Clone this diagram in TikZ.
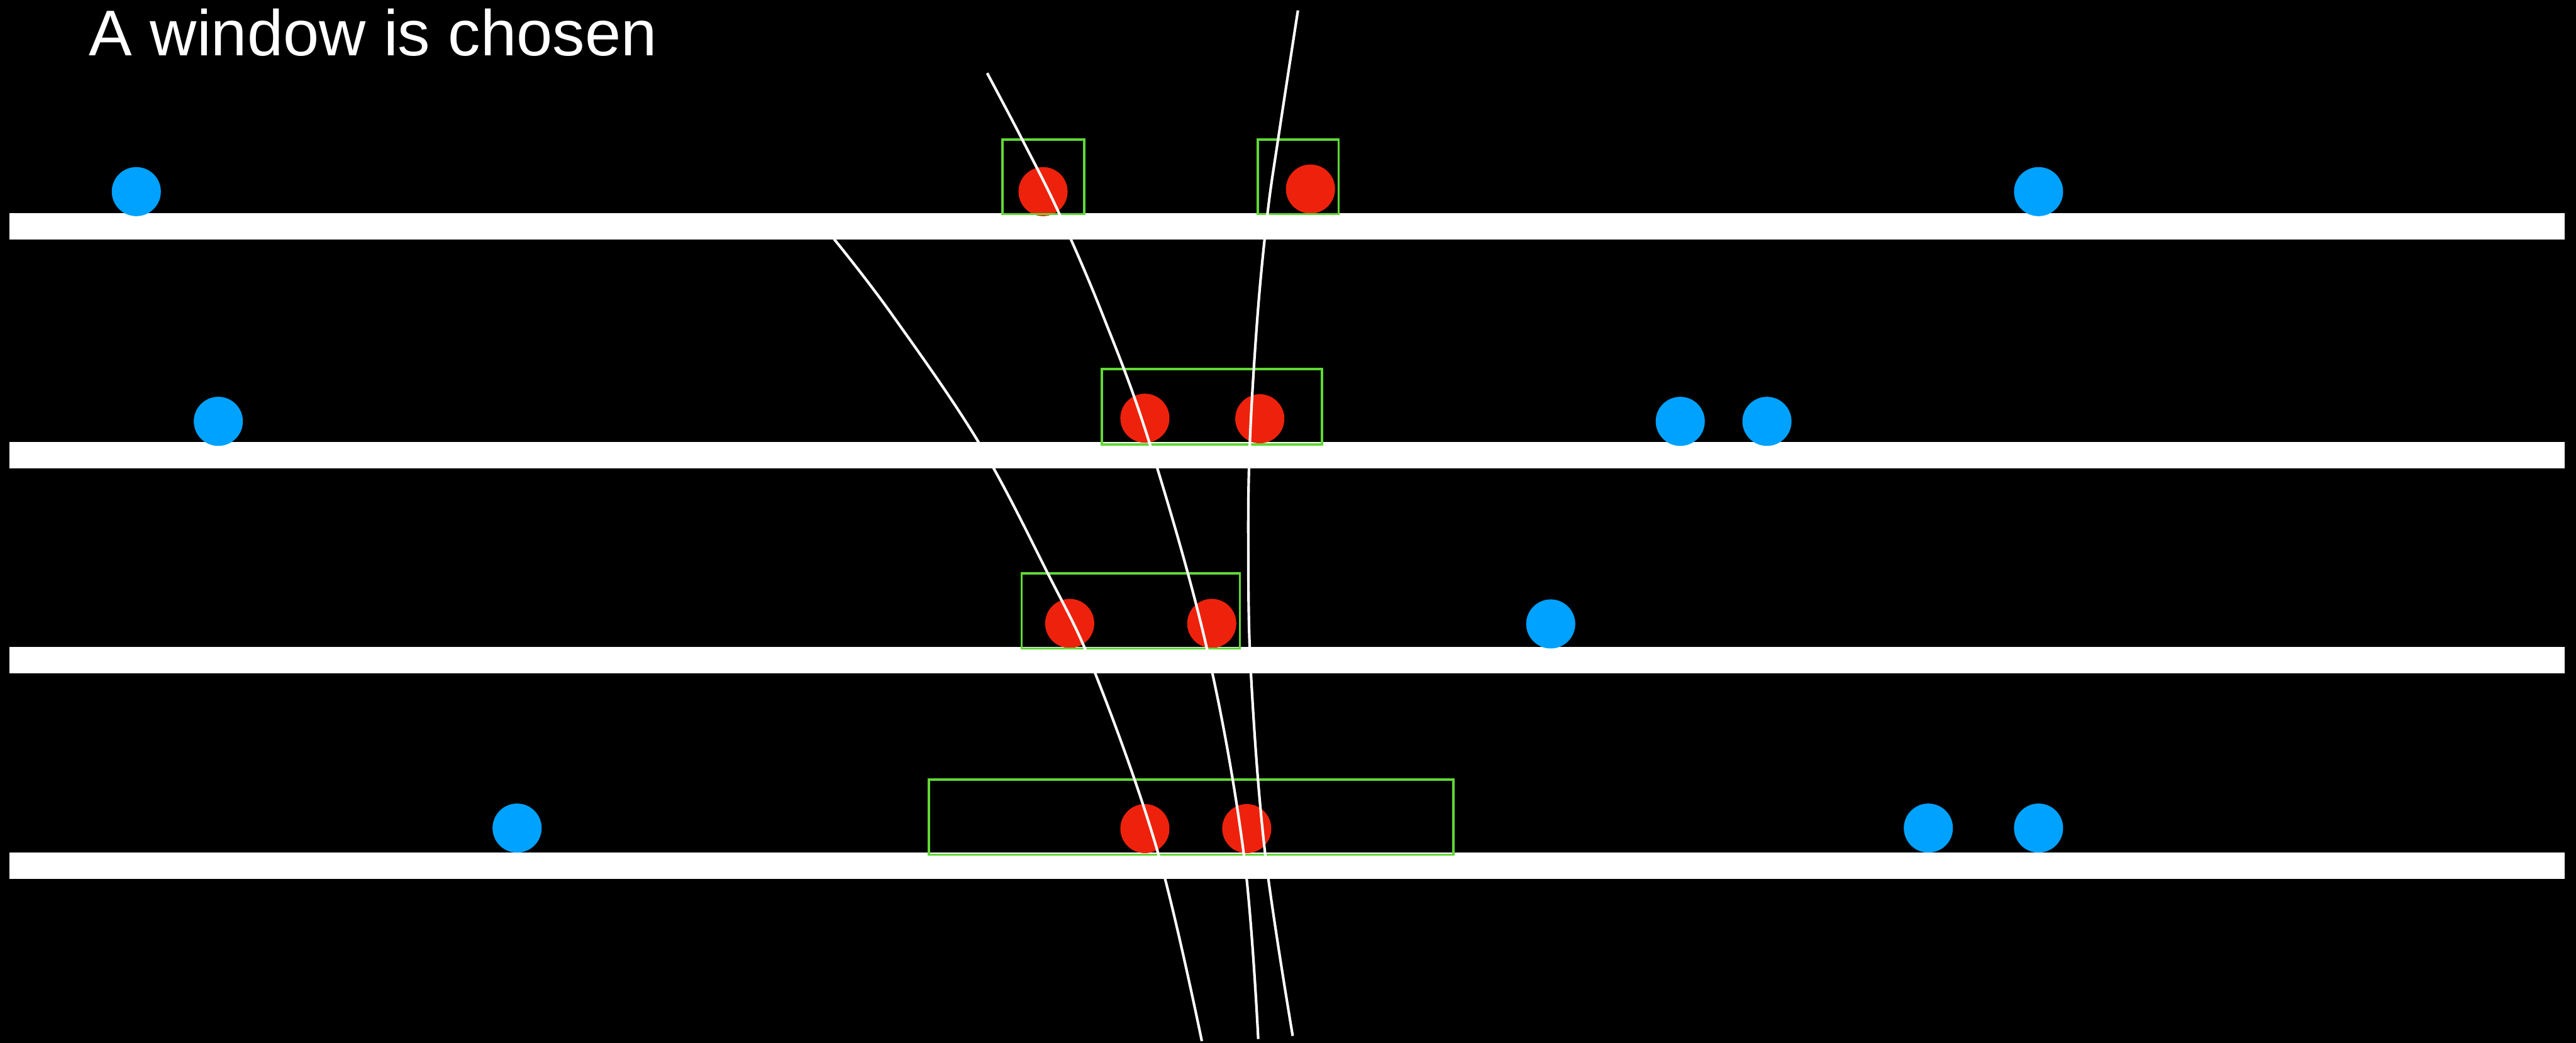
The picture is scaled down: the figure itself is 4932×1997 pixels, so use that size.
\documentclass[tikz,border=0pt]{standalone}
\usepackage{fontspec}
\setmainfont{Liberation Sans}
\definecolor{dotblue}{RGB}{0,162,255}
\definecolor{dotred}{RGB}{238,34,12}
\definecolor{boxgreen}{RGB}{97,216,54}
\begin{document}
\begin{tikzpicture}[x=0.01cm,y=-0.01cm,
  bar/.style={fill=white},
  bluedot/.style={fill=dotblue},
  reddot/.style={fill=dotred},
  winbox/.style={draw=boxgreen,line width=0.045cm},
  track/.style={draw=white,line width=0.05cm}]
\fill[black] (0,0) rectangle (4932,1997);
\useasboundingbox (0,0) rectangle (4932,1997);
% title
\node[anchor=base west,inner sep=0,text=white,font=\fontsize{35.2pt}{40pt}\selectfont] (title) at (170,107) {A window is chosen};
% bars
\foreach \t/\n in {408/b1,846/b2,1239/b3,1633/b4}{
  \fill[bar] (18,\t) rectangle (4910,\t+50.5);
}
% blue dots
\foreach \x/\y in {261/367,3903/367, 418/807,3217/807,3383/807, 2969/1195, 990/1586,3692/1586,3903/1586}{
  \fill[bluedot] (\x,\y) circle (47);
}
% red dots
\foreach \x/\y in {1997/367,2509/362, 2192/801,2412/802, 2048/1194,2320/1194, 2192/1587,2387/1587}{
  \fill[reddot] (\x,\y) circle (47);
}
% windows
\draw[winbox] (1919,267) rectangle (2076,410);
\draw[winbox] (2408,267) rectangle (2563,410);
\draw[winbox] (2110,707) rectangle (2531,851);
\draw[winbox] (1956,1098) rectangle (2374,1242);
\draw[winbox] (1778,1493) rectangle (2783,1637);
% tracks
\draw[track] plot[smooth,tension=0.6] coordinates {(1597,458) (1706,600) (1873,846) (2005,1096) (2097,1290) (2217,1633) (2301,1994)};
\draw[track] plot[smooth,tension=0.6] coordinates {(1890,140) (1957,267) (2027,407) (2110,600) (2200,846) (2310,1239) (2381,1633) (2409,1990)};
\draw[track] plot[smooth,tension=0.6] coordinates {(2485,20) (2447,267) (2427,407) (2408,600) (2393,846) (2390,1050) (2395,1290) (2422,1633) (2475,1984)};
\end{tikzpicture}
\end{document}
